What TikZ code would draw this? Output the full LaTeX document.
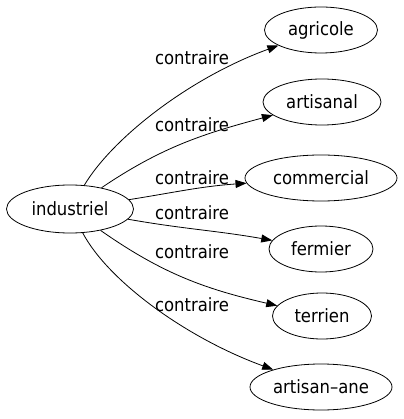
\documentclass[tikz,border=0pt]{standalone}
\usepackage{fontspec}
\setmainfont{DejaVu Sans Condensed}
\usetikzlibrary{shapes.geometric, arrows.meta}

\begin{document}
\begin{tikzpicture}[x=1pt, y=-1pt,
  word/.style={ellipse, draw, line width=0.8pt, minimum height=46pt, inner sep=0pt, font=\fontsize{18.3}{20}\selectfont},
  rel/.style={inner sep=0pt, font=\fontsize{18.3}{20}\selectfont}]

\useasboundingbox (0,0) rectangle (403,419);

\node (ind) [word, minimum width=127pt, minimum height=48pt] at (70,209) {industriel};
\node (agr) [word, minimum width=113pt] at (321,30) {agricole};
\node (art) [word, minimum width=118pt] at (322,102) {artisanal};
\node (com) [word, minimum width=152pt] at (321,178) {commercial};
\node (fer) [word, minimum width=104pt] at (321,249) {fermier};
\node (ter) [word, minimum width=99pt] at (322,316) {terrien};
\node (aa) [word, minimum width=142pt] at (321,387) {artisan–ane};

\node (l1) [rel] at (192,58) {contraire};
\node (l2) [rel] at (192,125) {contraire};
\node (l3) [rel] at (192,178) {contraire};
\node (l4) [rel] at (192,213) {contraire};
\node (l5) [rel] at (192,252) {contraire};
\node (l6) [rel] at (192,305) {contraire};

%Contraire:
\path [line width=0.8pt, -{Triangle[length=11pt, width=8pt]}]
(ind) edge [out=59, in=200, out looseness=0.6] (agr)
(ind) edge [out=34, in=195] (art)
(ind) edge [out=9, in=184] (com)
(ind) edge [out=-10, in=170] (fer)
(ind) edge [out=-35, in=167] (ter)
(ind) edge [out=-62, in=160, out looseness=0.6] (aa)
;

\end{tikzpicture}
\end{document}
